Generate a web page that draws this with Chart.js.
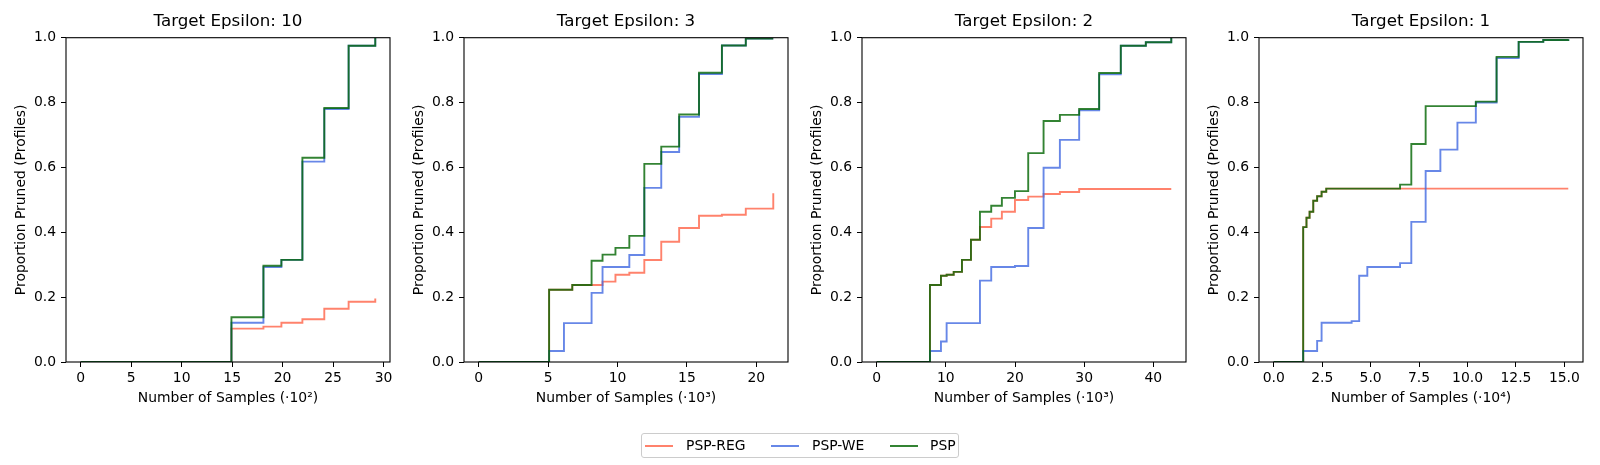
<!DOCTYPE html>
<html>
<head>
<meta charset="utf-8">
<script src="https://cdn.jsdelivr.net/npm/chart.js@4.4.0/dist/chart.umd.min.js"></script>
<style>
body { margin:0; background:#fff; width:1600px; height:465px; position:relative; overflow:hidden; font-family:"DejaVu Sans", sans-serif; }
canvas { position:absolute; top:0; }
#leyenda { position:absolute; left:641px; top:433px; width:318px; height:25px; border:1px solid #cccccc; border-radius:3px; box-sizing:border-box; }
#leyenda .linea { position:absolute; top:11px; width:28px; height:2px; }
#leyenda .texto { position:absolute; top:3px; font-size:13.9px; line-height:17px; color:#000; white-space:nowrap; }
</style>
</head>
<body>
<canvas id="c10" width="398" height="465" style="left:0px"></canvas>
<canvas id="c3" width="398" height="465" style="left:398px"></canvas>
<canvas id="c2" width="398" height="465" style="left:796px"></canvas>
<canvas id="c1" width="398" height="465" style="left:1193px"></canvas>
<div id="leyenda">
    <span class="linea" style="left:3px; background:rgba(255,99,71,0.8)"></span>
    <span class="texto" style="left:44px">PSP-REG</span>
    <span class="linea" style="left:129px; background:rgba(65,105,225,0.8)"></span>
    <span class="texto" style="left:170px">PSP-WE</span>
    <span class="linea" style="left:248px; background:rgba(0,100,0,0.8)"></span>
    <span class="texto" style="left:288px">PSP</span>
</div>
<script>
// Target Epsilon 10  (x en 10^2)
var pasos10 = [0, 14.93, 18.1, 19.88, 21.96, 24.13, 26.54, 29.18];
var reg10   = [0, 0.103, 0.109, 0.121, 0.132, 0.164, 0.186, 0.196];
var we10    = [0, 0.121, 0.293, 0.315, 0.618, 0.780, 0.975, 1.0];
var psp10   = [0, 0.138, 0.297, 0.315, 0.630, 0.783, 0.975, 1.0];

// Target Epsilon 3  (x en 10^3)
var pasos3 = [0, 5.07, 6.14, 6.74, 8.13, 8.92, 9.85, 10.85, 11.93, 13.15, 14.44, 15.87, 17.52, 19.24, 21.22];
var reg3   = [0, 0.223, 0.223, 0.2375, 0.2375, 0.2477, 0.269, 0.275, 0.3145, 0.371, 0.413, 0.451, 0.454, 0.473, 0.520];
var we3    = [0, 0.034, 0.120, 0.120, 0.213, 0.293, 0.293, 0.330, 0.537, 0.6475, 0.756, 0.888, 0.976, 0.997, 0.997];
var psp3   = [0, 0.223, 0.223, 0.2375, 0.312, 0.331, 0.352, 0.389, 0.611, 0.664, 0.763, 0.892, 0.976, 0.997, 0.997];

// Target Epsilon 2  (x en 10^3)
var pasos2 = [0, 7.70, 9.29, 10.11, 11.13, 12.33, 13.63, 14.93, 16.56, 18.1, 19.99, 21.91, 24.13, 26.49, 29.28, 32.17, 35.3, 38.92, 42.6];
var reg2   = [0, 0.2375, 0.266, 0.269, 0.278, 0.315, 0.377, 0.4165, 0.442, 0.4635, 0.4995, 0.51, 0.518, 0.524, 0.5335, 0.5335, 0.5335, 0.5335, 0.5335];
var we2    = [0, 0.034, 0.063, 0.120, 0.120, 0.120, 0.120, 0.251, 0.293, 0.293, 0.296, 0.413, 0.599, 0.685, 0.776, 0.887, 0.975, 0.986, 1.0];
var psp2   = [0, 0.2375, 0.266, 0.269, 0.278, 0.315, 0.377, 0.4635, 0.482, 0.506, 0.527, 0.644, 0.743, 0.762, 0.780, 0.891, 0.975, 0.986, 1.0];

// Target Epsilon 1  (x en 10^4)
var pasos1 = [0, 1.52, 1.69, 1.85, 2.04, 2.24, 2.47, 2.71, 4.02, 4.41, 4.83, 6.52, 7.10, 7.84, 8.60, 9.48, 10.43, 11.5, 12.64, 13.91, 15.2];
var reg1   = [0, 0.416, 0.445, 0.4635, 0.497, 0.511, 0.525, 0.5345, 0.5345, 0.5345, 0.5345, 0.5345, 0.5345, 0.5345, 0.5345, 0.5345, 0.5345, 0.5345, 0.5345, 0.5345, 0.5345];
var we1    = [0, 0.034, 0.034, 0.034, 0.034, 0.065, 0.121, 0.121, 0.126, 0.266, 0.293, 0.305, 0.432, 0.589, 0.655, 0.738, 0.800, 0.937, 0.987, 0.993, 0.995];
var psp1   = [0, 0.416, 0.445, 0.4635, 0.497, 0.511, 0.525, 0.5345, 0.5345, 0.5345, 0.5345, 0.547, 0.672, 0.789, 0.789, 0.789, 0.803, 0.941, 0.987, 0.993, 0.995];

var ticksX10 = [0, 5, 10, 15, 20, 25, 30];
var ticksX3  = [0, 5, 10, 15, 20];
var ticksX2  = [0, 10, 20, 30, 40];
var ticksX1  = [0, 2.5, 5, 7.5, 10, 12.5, 15];
var ticksY   = [0, 0.2, 0.4, 0.6, 0.8, 1.0];

var fuente = "'DejaVu Sans', sans-serif";

var marco = {
    id: 'marco',
    afterDraw: function(chart){
        var a = chart.chartArea;
        var ctx = chart.ctx;
        ctx.save();
        ctx.strokeStyle = '#000';
        ctx.lineWidth = 1.1;
        ctx.strokeRect(a.left, a.top, a.right - a.left, a.bottom - a.top);
        ctx.restore();
    }
};

function puntos(pasos, valores){
    var arr = [];
    for (var i = 0; i < pasos.length; i++){
        arr.push({x: pasos[i], y: valores[i]});
    }
    return arr;
}

function grafico(idChart, titulo, pasos, reg, we, psp, ticksX, etiquetaX, decimales){
    var ctx = document.getElementById(idChart);
    var maxX = pasos[pasos.length - 1];
    var margen = maxX * 0.05;
    var linea = {pointRadius: 0, borderWidth: 1.9, stepped: true, fill: false, tension: 0};
    return new Chart(ctx, {
        type: 'line',
        data: {
            datasets: [
                Object.assign({label: 'PSP-REG', data: puntos(pasos, reg), borderColor: 'rgba(255,99,71,0.8)', order: 3}, linea),
                Object.assign({label: 'PSP-WE', data: puntos(pasos, we), borderColor: 'rgba(65,105,225,0.8)', order: 2}, linea),
                Object.assign({label: 'PSP', data: puntos(pasos, psp), borderColor: 'rgba(0,100,0,0.8)', order: 1}, linea)
            ]
        },
        options: {
            responsive: false,
            animation: false,
            layout: { padding: {top: 0, right: 8, bottom: 0, left: 0} },
            plugins: {
                legend: { display: false },
                tooltip: { enabled: false },
                title: {
                    display: true,
                    text: titulo,
                    fullSize: false,
                    color: '#000',
                    font: {family: fuente, size: 16.7, weight: 'normal'},
                    padding: {top: 12, bottom: 5.66}
                }
            },
            scales: {
                x: {
                    type: 'linear',
                    min: -margen,
                    max: maxX + margen,
                    border: {display: false},
                    grid: {drawOnChartArea: false, drawTicks: true, tickLength: 5, tickColor: '#000', tickWidth: 1},
                    afterBuildTicks: function(s){ s.ticks = ticksX.map(function(v){ return {value: v}; }); },
                    afterFit: function(s){ s.height = 103; },
                    ticks: {
                        autoSkip: false, maxRotation: 0, padding: 3, color: '#000',
                        font: {family: fuente, size: 13.9},
                        callback: function(v){ return v.toFixed(decimales); }
                    },
                    title: {
                        display: true, text: etiquetaX, color: '#000',
                        font: {family: fuente, size: 13.9},
                        padding: {top: 0, bottom: 58.6}
                    }
                },
                y: {
                    min: 0,
                    max: 1,
                    border: {display: false},
                    grid: {drawOnChartArea: false, drawTicks: true, tickLength: 5, tickColor: '#000', tickWidth: 1},
                    afterBuildTicks: function(s){ s.ticks = ticksY.map(function(v){ return {value: v}; }); },
                    afterFit: function(s){ s.width = 66; },
                    ticks: {
                        autoSkip: false, padding: 5, color: '#000',
                        font: {family: fuente, size: 13.9},
                        callback: function(v){ return v.toFixed(1); }
                    },
                    title: {
                        display: true, text: 'Proportion Pruned (Profiles)', color: '#000',
                        font: {family: fuente, size: 13.9},
                        padding: {top: 12.6, bottom: 0}
                    }
                }
            }
        },
        plugins: [marco]
    });
}

grafico('c10', 'Target Epsilon: 10', pasos10, reg10, we10, psp10, ticksX10, 'Number of Samples (\u00b710\u00b2)', 0);
grafico('c3', 'Target Epsilon: 3', pasos3, reg3, we3, psp3, ticksX3, 'Number of Samples (\u00b710\u00b3)', 0);
grafico('c2', 'Target Epsilon: 2', pasos2, reg2, we2, psp2, ticksX2, 'Number of Samples (\u00b710\u00b3)', 0);
grafico('c1', 'Target Epsilon: 1', pasos1, reg1, we1, psp1, ticksX1, 'Number of Samples (\u00b710\u2074)', 1);
</script>
</body>
</html>
